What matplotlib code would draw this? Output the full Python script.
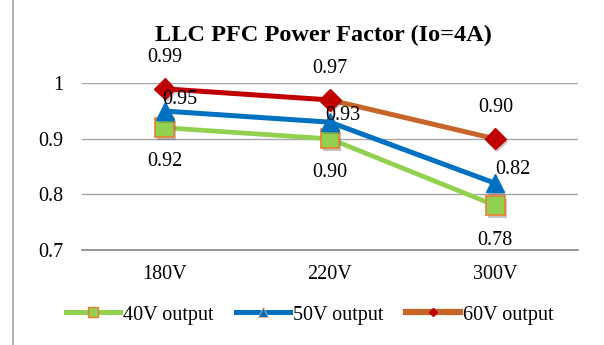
import matplotlib
matplotlib.use("Agg")
import matplotlib.pyplot as plt
from matplotlib.lines import Line2D
import matplotlib.patheffects as pe

categories = ["180V", "220V", "300V"]
pf_40v = [0.92, 0.90, 0.78]
pf_50v = [0.95, 0.93, 0.82]
pf_60v = [0.99, 0.97, 0.90]
series_names = ["40V output", "50V output", "60V output"]
yticks = [0.7, 0.8, 0.9, 1.0]
ytick_labels = ["0.7", "0.8", "0.9", "1"]

plt.rcParams['font.family'] = ['Liberation Serif', 'DejaVu Serif']

fig = plt.figure(figsize=(6.04, 3.45), dpi=100)
ax = fig.add_axes([82/604, 0.2754, 496/604, 0.4832])

x = list(range(len(categories)))
green = "#92D050"
sq_edge = "#ED7D31"
blue = "#0070C0"
red = "#C00000"
orange = "#C5652A"

shadow = [pe.SimplePatchShadow(offset=(1.5, -2), shadow_rgbFace='#555555', alpha=0.35), pe.Normal()]

# 40V
ax.plot(x, pf_40v, color=green, lw=3.4, zorder=3, solid_capstyle='round')
ax.plot(x, pf_40v, ls='none', marker='s', ms=13.5, mfc=green, mec=sq_edge, mew=1.2, zorder=6,
        clip_on=False, path_effects=shadow)
# 50V
ax.plot(x, pf_50v, color=blue, lw=3.6, zorder=4, solid_capstyle='round')
ax.plot(x, pf_50v, ls='none', marker='^', ms=13, mfc=blue, mec=blue, zorder=7, clip_on=False,
        path_effects=shadow)
# 60V (first segment red, second orange)
ax.plot(x[:2], pf_60v[:2], color=red, lw=3.6, zorder=4)
ax.plot(x[1:], pf_60v[1:], color=orange, lw=3.6, zorder=4)
ax.plot(x, pf_60v, ls='none', marker='D', ms=10.8, mfc=red, mec=red, zorder=8, clip_on=False,
        path_effects=shadow)

# data labels
fs = 14.5
off40 = [(0, -34), (0, -34), (0, -35)]
off50 = [(15, 12), (13, 7), (18, 14)]
off60 = [(0, 31), (0, 31), (0, 31)]
for vals, offs in ((pf_40v, off40), (pf_50v, off50), (pf_60v, off60)):
    for xi, v, (dx, dy) in zip(x, vals, offs):
        ax.annotate(f"{v:.2f}", (xi, v), xytext=(dx, dy), textcoords='offset pixels',
                    ha='center', va='center', fontsize=fs, color='#000000', zorder=10)

ax.set_xlim(-0.5, 2.5)
ax.set_ylim(0.7, 1.0)
ax.set_yticks(yticks)
ax.set_yticklabels(ytick_labels, fontsize=fs)
ax.set_xticks(x)
ax.set_xticklabels(categories, fontsize=fs)
ax.tick_params(axis='both', length=0)
ax.tick_params(axis='y', pad=13.5)
ax.tick_params(axis='x', pad=11)
for sp in ('top', 'right', 'left'):
    ax.spines[sp].set_visible(False)
ax.spines['bottom'].set_color('#868686')
ax.spines['bottom'].set_linewidth(1.2)
ax.grid(axis='y', color='#A6A6A6', lw=1.0)
ax.set_axisbelow(True)

fig.text(0.536, 0.897, "LLC PFC Power Factor (Io=4A)", ha='center', va='center',
         fontsize=17.5, fontweight='bold')

handles = [
    Line2D([], [], color=green, lw=3.6, marker='s', ms=7, mfc=green, mec=sq_edge, mew=1),
    Line2D([], [], color=blue, lw=3.6, marker='^', ms=7, mfc=blue, mec='#F4B183', mew=0.6),
    Line2D([], [], color=orange, lw=4.5, marker='D', ms=4, mfc=red, mec=red),
]
fig.legend(handles, series_names, loc='center', bbox_to_anchor=(0.513, 0.087), ncol=3,
           frameon=False, fontsize=fs, handlelength=2.65, handletextpad=0.15,
           columnspacing=1.15)

# left border line of chart area
fig.add_artist(Line2D([12.5/604, 12.5/604], [0, 1], color='#A6A6A6', lw=1.2, transform=fig.transFigure))

fig.savefig("out.png", dpi=100)
